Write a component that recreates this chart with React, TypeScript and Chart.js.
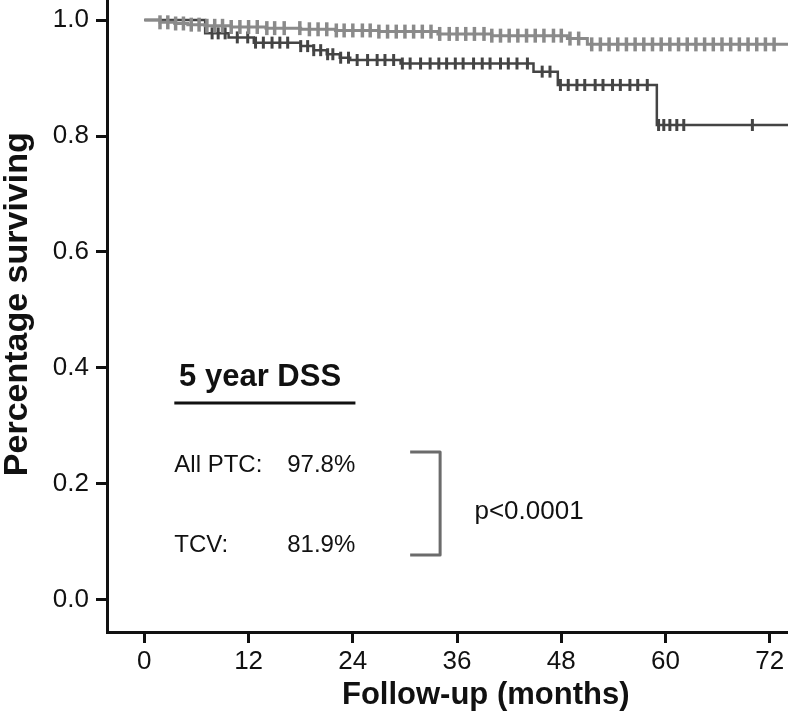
import React, { useEffect, useRef } from "react";
import { Chart, registerables } from "chart.js";

Chart.register(...registerables);

// ---------- data ----------
const xTickValues = [0, 12, 24, 36, 48, 60, 72];
const yTickValues = [0, 0.2, 0.4, 0.6, 0.8, 1.0];
const followUpEnd = 74.1;

// All PTC (light grey) Kaplan-Meier steps
const ptcEventTimes = [0, 1.8, 3.5, 5, 7, 10, 14, 18, 22, 27, 33.8, 40, 48.7, 51];
const ptcSurvival = [1.0, 0.996, 0.994, 0.992, 0.99, 0.988, 0.986, 0.984, 0.982, 0.98, 0.976, 0.973, 0.968, 0.958];
const ptcCensorTimes = [
  1.8, 2.7, 3.6, 4.5, 5.4, 6.3, 7.2, 8.1, 9.0, 10.0, 11.0, 12.0, 13.0, 14.1, 15.0, 16.1,
  17.9, 19.0, 20.0, 21.0, 22.1, 23.0, 24.0, 25.1, 26.0, 27.0, 28.0, 29.0, 30.0, 31.0, 32.0,
  33.0, 34.0, 35.1, 36.0, 37.0, 38.0, 39.1, 40.0, 41.0, 42.0, 43.0, 44.0, 45.0, 46.0, 47.1,
  48.0, 49.0, 50.0, 51.5, 52.5, 53.5, 54.5, 55.5, 56.5, 57.5, 58.5, 59.5, 60.5, 61.5, 62.5,
  63.5, 64.5, 65.5, 66.5, 67.5, 68.5, 69.5, 70.5, 71.5, 72.5,
];

// TCV (dark grey) Kaplan-Meier steps
const tcvEventTimes = [0, 7, 9.7, 12.6, 18, 19.5, 21, 22.5, 23.7, 29.5, 44.8, 47.6, 59];
const tcvSurvival = [1.0, 0.977, 0.97, 0.961, 0.955, 0.948, 0.941, 0.935, 0.931, 0.925, 0.911, 0.888, 0.819];
const tcvCensorTimes = [
  7.8, 8.5, 9.3, 10.7, 11.9, 12.8, 13.7, 14.7, 15.6, 16.5, 18.0, 18.8, 19.5, 20.3, 21.1,
  21.7, 22.6, 23.5, 24.5, 25.7, 26.8, 27.7, 28.7, 29.7, 30.6, 31.8, 32.9, 33.9, 34.8, 35.8,
  36.7, 37.9, 38.9, 39.8, 41.0, 41.9, 42.9, 44.1, 45.8, 46.7, 47.9, 48.8, 49.8, 50.7, 51.9,
  52.8, 53.9, 54.8, 55.9, 56.8, 57.9, 59.2, 59.8, 60.5, 61.3, 62.1, 70.0,
];

const headingText = "5 year DSS";
const groupLabels = ["All PTC:", "TCV:"];
const groupRates = ["97.8%", "81.9%"];
const pValueText = "p<0.0001";
const xTitle = "Follow-up (months)";
const yTitle = "Percentage surviving";

// ---------- helpers ----------
function stepPoints(times: number[], surv: number[], end: number) {
  const pts = times.map((t, i) => ({ x: t, y: surv[i] }));
  pts.push({ x: end, y: surv[surv.length - 1] });
  return pts;
}
function survivalAt(times: number[], surv: number[], t: number) {
  let s = surv[0];
  for (let i = 0; i < times.length; i++) if (times[i] <= t) s = surv[i];
  return s;
}
function censorPoints(censor: number[], times: number[], surv: number[]) {
  return censor.map((t) => ({ x: t, y: survivalAt(times, surv, t) }));
}

const LIGHT = "#8a8a8a";
const DARK = "#444444";
const FONT = '"Liberation Sans", Arial, Helvetica, sans-serif';

const annotationPlugin = {
  id: "kmAnnotations",
  afterDraw(chart: any) {
    const ctx = chart.ctx as CanvasRenderingContext2D;
    const xs = chart.scales.x;
    const ys = chart.scales.y;
    const px = (m: number) => xs.getPixelForValue(m);
    const py = (v: number) => ys.getPixelForValue(v);
    ctx.save();
    ctx.fillStyle = "#111";
    ctx.textBaseline = "alphabetic";
    ctx.textAlign = "left";

    // heading
    ctx.font = `bold 31px ${FONT}`;
    ctx.fillText(headingText, px(4.0), py(0.369));
    ctx.strokeStyle = "#111";
    ctx.lineWidth = 3;
    ctx.beginPath();
    ctx.moveTo(px(3.45), py(0.3397));
    ctx.lineTo(px(24.3), py(0.3397));
    ctx.stroke();

    // rows
    ctx.font = `24px ${FONT}`;
    const rowY = [0.2207, 0.0828];
    groupLabels.forEach((lab, i) => {
      ctx.fillText(lab, px(3.45), py(rowY[i]));
      ctx.fillText(groupRates[i], px(16.45), py(rowY[i]));
    });

    // bracket
    ctx.strokeStyle = "#6b6b6b";
    ctx.lineWidth = 3;
    ctx.lineJoin = "round";
    ctx.beginPath();
    ctx.moveTo(px(30.6), py(0.255));
    ctx.lineTo(px(34.05), py(0.255));
    ctx.lineTo(px(34.05), py(0.0776));
    ctx.lineTo(px(30.6), py(0.0776));
    ctx.stroke();

    // p value
    ctx.font = `26px ${FONT}`;
    ctx.fillText(pValueText, px(38.0), py(0.1397));

    // axis titles
    ctx.font = `bold 31px ${FONT}`;
    ctx.textAlign = "center";
    ctx.fillText(xTitle, px(39.3), 704);

    ctx.font = `bold 34px ${FONT}`;
    ctx.translate(27, py(0.51));
    ctx.rotate(-Math.PI / 2);
    ctx.fillText(yTitle, 0, 0);
    ctx.restore();
  },
};

export default function App() {
  const canvasRef = useRef<HTMLCanvasElement | null>(null);

  useEffect(() => {
    const canvas = canvasRef.current;
    if (!canvas) return;
    const chart = new Chart(canvas, {
      type: "line",
      data: {
        datasets: [
          {
            label: "All PTC",
            data: stepPoints(ptcEventTimes, ptcSurvival, followUpEnd),
            stepped: "before",
            borderColor: LIGHT,
            borderWidth: 3,
            pointRadius: 0,
            fill: false,
            order: 1,
          },
          {
            label: "All PTC censored",
            type: "scatter",
            data: censorPoints(ptcCensorTimes, ptcEventTimes, ptcSurvival),
            showLine: false,
            pointStyle: "line",
            rotation: 90,
            pointRadius: 7,
            borderWidth: 3.5,
            borderColor: LIGHT,
            backgroundColor: LIGHT,
            order: 0,
          },
          {
            label: "TCV",
            data: stepPoints(tcvEventTimes, tcvSurvival, followUpEnd),
            stepped: "before",
            borderColor: DARK,
            borderWidth: 2.5,
            pointRadius: 0,
            fill: false,
            order: 3,
          },
          {
            label: "TCV censored",
            type: "scatter",
            data: censorPoints(tcvCensorTimes, tcvEventTimes, tcvSurvival),
            showLine: false,
            pointStyle: "line",
            rotation: 90,
            pointRadius: 6,
            borderWidth: 3,
            borderColor: DARK,
            backgroundColor: DARK,
            order: 2,
          },
        ] as any,
      },
      options: {
        animation: false,
        responsive: false,
        maintainAspectRatio: false,
        layout: { padding: 0, autoPadding: false },
        plugins: {
          legend: { display: false },
          tooltip: { enabled: false },
          title: { display: false },
        },
        scales: {
          x: {
            type: "linear",
            min: -4.3,
            max: followUpEnd,
            afterBuildTicks: (axis: any) => {
              axis.ticks = xTickValues.map((v) => ({ value: v }));
            },
            afterFit: (scale: any) => {
              scale.height = 83;
              scale.paddingLeft = 0;
              scale.paddingRight = 0;
            },
            ticks: {
              color: "#111",
              font: { family: FONT, size: 26 },
              padding: 3,
              maxRotation: 0,
              autoSkip: false,
              callback: (v: any) => String(v),
            },
            grid: {
              display: true,
              drawOnChartArea: false,
              drawTicks: true,
              tickLength: 11,
              lineWidth: 3,
              color: "#111",
              tickColor: "#111",
            },
            border: { display: true, width: 3, color: "#111" },
            title: { display: false },
          },
          y: {
            type: "linear",
            min: -0.0552,
            max: 1.0345,
            afterBuildTicks: (axis: any) => {
              axis.ticks = yTickValues.map((v) => ({ value: v }));
            },
            afterFit: (scale: any) => {
              scale.width = 107;
              scale.paddingTop = 0;
              scale.paddingBottom = 0;
            },
            ticks: {
              color: "#111",
              font: { family: FONT, size: 26 },
              padding: 7,
              autoSkip: false,
              callback: (v: any) => Number(v).toFixed(1),
            },
            grid: {
              display: true,
              drawOnChartArea: false,
              drawTicks: true,
              tickLength: 11,
              lineWidth: 3,
              color: "#111",
              tickColor: "#111",
            },
            border: { display: true, width: 3, color: "#111" },
            title: { display: false },
          },
        },
      } as any,
      plugins: [annotationPlugin],
    });
    return () => chart.destroy();
  }, []);

  return (
    <div style={{ position: "absolute", left: 0, top: 0, width: 788, height: 715, background: "#fff" }}>
      <canvas ref={canvasRef} width={788} height={715} style={{ display: "block", width: 788, height: 715 }} />
    </div>
  );
}
